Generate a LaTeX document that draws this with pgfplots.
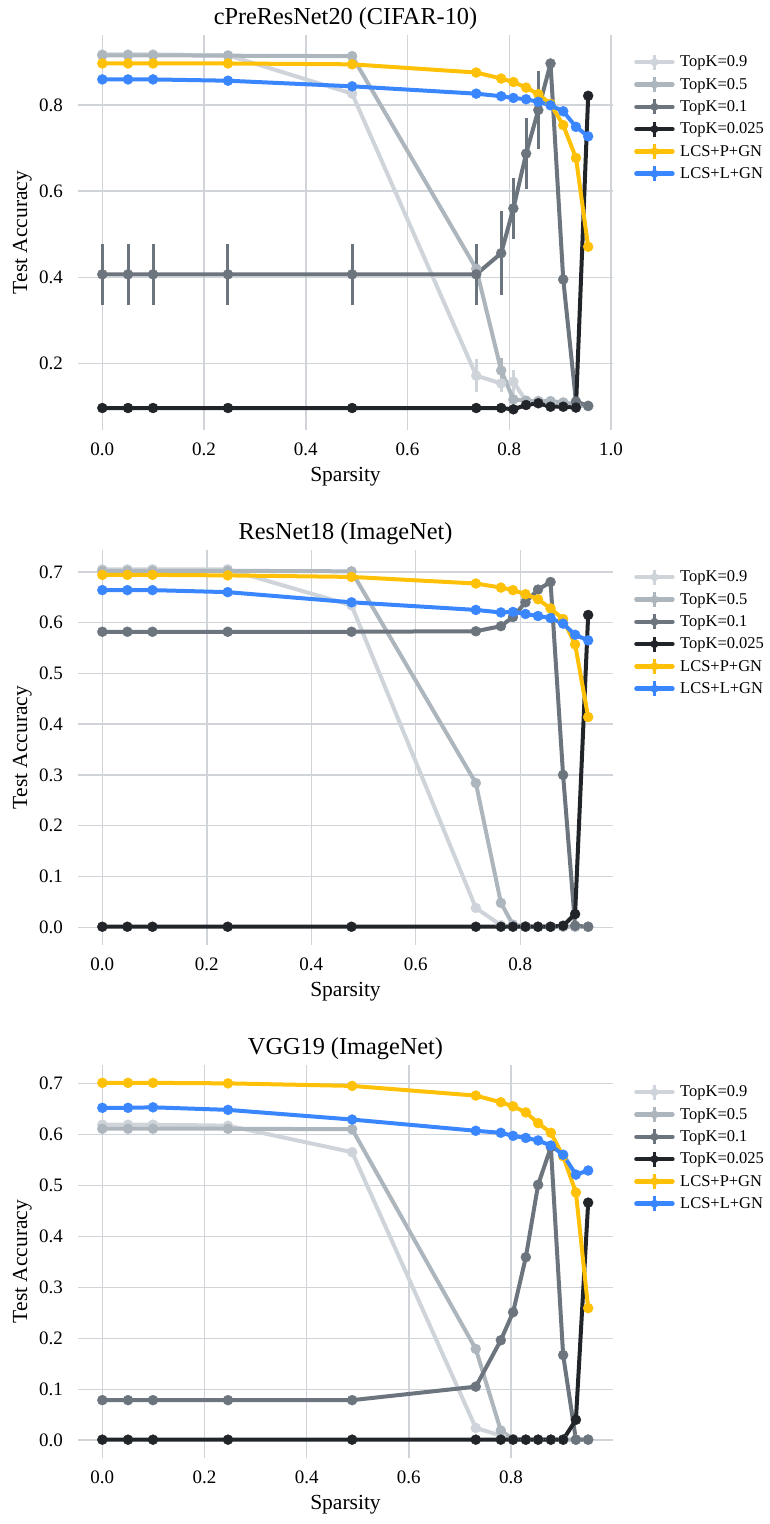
\documentclass[border=0pt]{standalone}
\usepackage{pgfplots}
\pgfplotsset{compat=1.18}
\usepackage{fontspec}
\setmainfont{Liberation Serif}
\definecolor{ka}{HTML}{CED4DA}
\definecolor{kb}{HTML}{ADB5BD}
\definecolor{kc}{HTML}{6C757D}
\definecolor{kd}{HTML}{212529}
\definecolor{lp}{HTML}{FFC107}
\definecolor{ll}{HTML}{3A86FF}
\definecolor{gridc}{HTML}{D0D4D9}
\pgfplotsset{
  legend image code/.code={
    \draw[#1, mark=none, line width=4.5pt, line cap=round] (0pt,0pt) -- (36pt,0pt);
    \draw[#1, mark=none, line width=3pt] (18pt,-7.5pt) -- (18pt,7.5pt);
    \fill[#1, draw=none] (18pt,0pt) circle (4pt);
  },
  mypanel/.style={
    scale only axis, width=535pt,
    axis line style={draw=none},
    major tick length=0pt,
    xmajorgrids, ymajorgrids,
    major grid style={draw=gridc, line width=1.4pt},
    tick label style={font=\fontsize{19}{22}\selectfont, inner sep=0pt},
    xticklabel style={yshift=-13pt},
    yticklabel style={xshift=-15pt},
    /pgf/number format/assume math mode=true,
    /pgf/number format/fixed, /pgf/number format/fixed zerofill, /pgf/number format/precision=1,
    xtick={0,0.2,0.4,0.6,0.8,1.0},
    xlabel={Sparsity}, ylabel={Test Accuracy},
    label style={font=\fontsize{21.5}{25}\selectfont},
    xlabel style={at={(axis description cs:0.5,0)}, anchor=base, yshift=-51pt},
    ylabel style={at={(axis description cs:-0.0953,0.5)}, anchor=base},
    title style={font=\fontsize{24.3}{28}\selectfont, at={(axis description cs:0.5,1)}, anchor=base, yshift=5pt},
    legend style={at={(axis description cs:1,1)}, anchor=north west, xshift=21pt, yshift=-18pt,
      draw=none, fill=none, font=\fontsize{16.5}{19}\selectfont, inner sep=0pt, row sep=4.3pt,
      nodes={inner sep=1.5pt},
      /tikz/every odd column/.style={column sep=4pt}},
    legend cell align=left,
    every axis plot/.append style={line width=4pt, mark=*, mark size=5pt, line join=round,
      mark options={solid, line width=0.4pt},
      error bars/y dir=both, error bars/y explicit, error bars/error mark=none,
      error bars/error bar style={line width=3pt}},
  }
}
\begin{document}
\begin{tikzpicture}
\useasboundingbox (0pt,0pt) rectangle (769pt,-1524pt);
% ---------------- Panel 1 ----------------
\begin{axis}[mypanel, at={(78pt,-35pt)}, anchor=north west, height=395pt,
  xmin=-0.0478, xmax=1.0038, ymin=0.046, ymax=0.962,
  ytick={0.2,0.4,0.6,0.8}, title={cPreResNet20 (CIFAR-10)}]
\addplot[color=ka] table[x=x,y=y,y error=e] {
x y e
0 0.917 0
0.0505 0.917 0
0.0997 0.917 0
0.247 0.915 0
0.491 0.826 0
0.735 0.172 0.038
0.784 0.154 0.02
0.808 0.158 0.028
0.833 0.113 0
0.857 0.112 0
0.881 0.108 0
0.906 0.105 0
0.931 0.103 0
0.955 0.101 0
};
\addlegendentry{TopK=0.9}
\addplot[color=kb] table[x=x,y=y,y error=e] {
x y e
0 0.915 0
0.0505 0.915 0
0.0997 0.915 0
0.247 0.914 0
0.491 0.913 0
0.735 0.420 0.01
0.784 0.184 0.03
0.808 0.117 0
0.833 0.114 0
0.857 0.113 0
0.881 0.113 0
0.906 0.110 0
0.931 0.105 0
0.955 0.102 0
};
\addlegendentry{TopK=0.5}
\addplot[color=kc] table[x=x,y=y,y error=e] {
x y e
0 0.407 0.07
0.0505 0.407 0.07
0.0997 0.407 0.07
0.247 0.407 0.07
0.491 0.407 0.07
0.735 0.407 0.07
0.784 0.456 0.098
0.808 0.560 0.07
0.833 0.687 0.083
0.857 0.788 0.09
0.881 0.896 0.005
0.906 0.395 0
0.931 0.112 0
0.955 0.102 0
};
\addlegendentry{TopK=0.1}
\addplot[color=kd] coordinates {
(0,0.097) (0.0505,0.097) (0.0997,0.097) (0.247,0.097) (0.491,0.097) (0.735,0.097)
(0.784,0.097) (0.808,0.094) (0.833,0.104) (0.857,0.108) (0.881,0.100) (0.906,0.100)
(0.931,0.098) (0.955,0.821)
};
\addlegendentry{TopK=0.025}
\addplot[color=lp] coordinates {
(0,0.896) (0.0505,0.896) (0.0997,0.896) (0.247,0.896) (0.491,0.894) (0.735,0.875)
(0.784,0.861) (0.808,0.853) (0.833,0.840) (0.857,0.825) (0.881,0.802) (0.906,0.753)
(0.931,0.677) (0.955,0.471)
};
\addlegendentry{LCS+P+GN}
\addplot[color=ll] coordinates {
(0,0.859) (0.0505,0.859) (0.0997,0.859) (0.247,0.856) (0.491,0.843) (0.735,0.826)
(0.784,0.820) (0.808,0.816) (0.833,0.813) (0.857,0.807) (0.881,0.799) (0.906,0.785)
(0.931,0.749) (0.955,0.727)
};
\addlegendentry{LCS+L+GN}
\end{axis}
% ---------------- Panel 2 ----------------
\begin{axis}[mypanel, at={(78pt,-550pt)}, anchor=north west, height=395pt,
  xmin=-0.04655, xmax=0.97755, ymin=-0.035, ymax=0.743,
  ytick={0,0.1,0.2,0.3,0.4,0.5,0.6,0.7}, title={ResNet18 (ImageNet)}]
\addplot[color=ka] coordinates {
(0,0.705) (0.048,0.705) (0.096,0.705) (0.240,0.705) (0.477,0.634) (0.715,0.038)
(0.763,0.004) (0.786,0.002) (0.810,0.001) (0.834,0.001) (0.858,0.001) (0.882,0.001)
(0.905,0.001) (0.930,0.001)
};
\addlegendentry{TopK=0.9}
\addplot[color=kb] coordinates {
(0,0.702) (0.048,0.702) (0.096,0.702) (0.240,0.702) (0.477,0.701) (0.715,0.284)
(0.763,0.048) (0.786,0.005) (0.810,0.002) (0.834,0.001) (0.858,0.001) (0.882,0.001)
(0.905,0.001) (0.930,0.001)
};
\addlegendentry{TopK=0.5}
\addplot[color=kc] coordinates {
(0,0.582) (0.048,0.582) (0.096,0.582) (0.240,0.582) (0.477,0.582) (0.715,0.583)
(0.763,0.593) (0.786,0.611) (0.810,0.640) (0.834,0.665) (0.858,0.680) (0.882,0.300)
(0.905,0.003) (0.930,0.001)
};
\addlegendentry{TopK=0.1}
\addplot[color=kd] coordinates {
(0,0.001) (0.048,0.001) (0.096,0.001) (0.240,0.001) (0.477,0.001) (0.715,0.001)
(0.763,0.001) (0.786,0.001) (0.810,0.001) (0.834,0.001) (0.858,0.001) (0.882,0.003)
(0.905,0.026) (0.930,0.615)
};
\addlegendentry{TopK=0.025}
\addplot[color=lp] coordinates {
(0,0.694) (0.048,0.694) (0.096,0.694) (0.240,0.693) (0.477,0.690) (0.715,0.677)
(0.763,0.669) (0.786,0.664) (0.810,0.656) (0.834,0.646) (0.858,0.628) (0.882,0.607)
(0.905,0.557) (0.930,0.414)
};
\addlegendentry{LCS+P+GN}
\addplot[color=ll] coordinates {
(0,0.664) (0.048,0.664) (0.096,0.664) (0.240,0.660) (0.477,0.640) (0.715,0.625)
(0.763,0.620) (0.786,0.621) (0.810,0.617) (0.834,0.613) (0.858,0.609) (0.882,0.598)
(0.905,0.576) (0.930,0.565)
};
\addlegendentry{LCS+L+GN}
\end{axis}
% ---------------- Panel 3 ----------------
\begin{axis}[mypanel, at={(78pt,-1065pt)}, anchor=north west, height=393pt,
  xmin=-0.0476, xmax=0.9996, ymin=-0.035, ymax=0.736,
  ytick={0,0.1,0.2,0.3,0.4,0.5,0.6,0.7}, title={VGG19 (ImageNet)}]
\addplot[color=ka] coordinates {
(0,0.619) (0.0503,0.619) (0.0992,0.619) (0.246,0.617) (0.489,0.565) (0.731,0.024)
(0.780,0.009) (0.804,0.002) (0.829,0.001) (0.853,0.001) (0.878,0.001) (0.902,0.001)
(0.927,0.001) (0.951,0.001)
};
\addlegendentry{TopK=0.9}
\addplot[color=kb] coordinates {
(0,0.611) (0.0503,0.611) (0.0992,0.611) (0.246,0.611) (0.489,0.610) (0.731,0.179)
(0.780,0.019) (0.804,0.002) (0.829,0.001) (0.853,0.001) (0.878,0.001) (0.902,0.001)
(0.927,0.001) (0.951,0.001)
};
\addlegendentry{TopK=0.5}
\addplot[color=kc] coordinates {
(0,0.0785) (0.0503,0.0785) (0.0992,0.0785) (0.246,0.0785) (0.489,0.0785) (0.731,0.105)
(0.780,0.196) (0.804,0.251) (0.829,0.359) (0.853,0.501) (0.878,0.575) (0.902,0.167)
(0.927,0.001) (0.951,0.001)
};
\addlegendentry{TopK=0.1}
\addplot[color=kd] coordinates {
(0,0.001) (0.0503,0.001) (0.0992,0.001) (0.246,0.001) (0.489,0.001) (0.731,0.001)
(0.780,0.001) (0.804,0.001) (0.829,0.001) (0.853,0.001) (0.878,0.001) (0.902,0.001)
(0.927,0.040) (0.951,0.466)
};
\addlegendentry{TopK=0.025}
\addplot[color=lp] coordinates {
(0,0.701) (0.0503,0.701) (0.0992,0.701) (0.246,0.700) (0.489,0.695) (0.731,0.676)
(0.780,0.663) (0.804,0.655) (0.829,0.643) (0.853,0.622) (0.878,0.603) (0.902,0.557)
(0.927,0.486) (0.951,0.259)
};
\addlegendentry{LCS+P+GN}
\addplot[color=ll] coordinates {
(0,0.652) (0.0503,0.652) (0.0992,0.653) (0.246,0.648) (0.489,0.629) (0.731,0.607)
(0.780,0.603) (0.804,0.597) (0.829,0.593) (0.853,0.588) (0.878,0.578) (0.902,0.560)
(0.927,0.521) (0.951,0.529)
};
\addlegendentry{LCS+L+GN}
\end{axis}
\end{tikzpicture}
\end{document}
